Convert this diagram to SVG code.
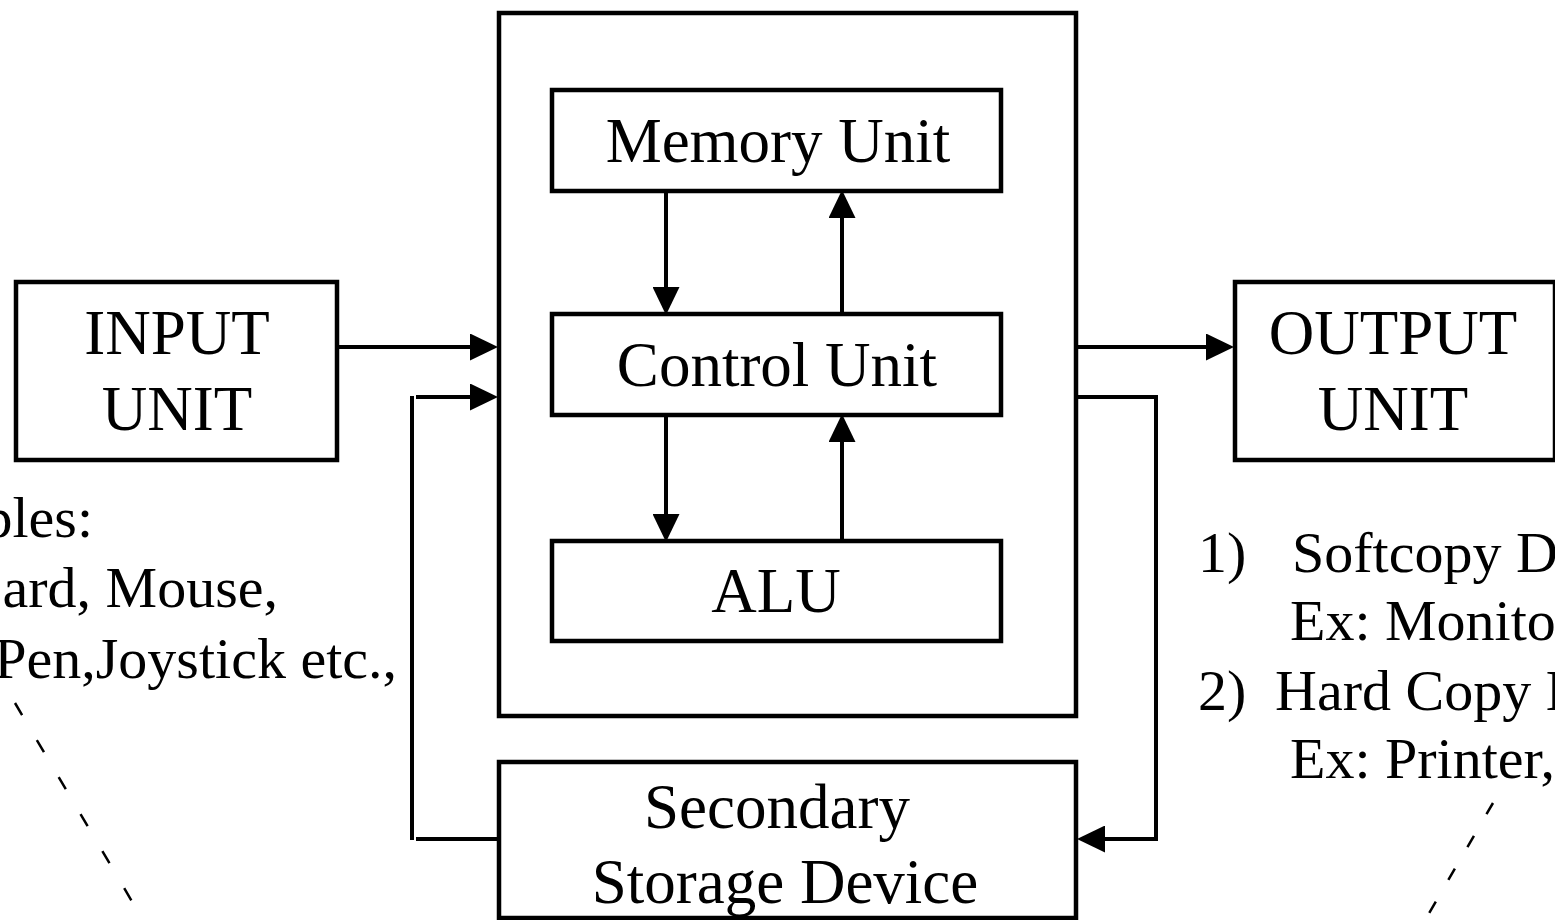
<svg xmlns="http://www.w3.org/2000/svg" width="1555" height="920" viewBox="0 0 1555 920">
<style>
.box{fill:#fff;stroke:#000;stroke-width:4.5}
.lbl{font-family:"Liberation Serif","Times New Roman",serif;font-size:63px;fill:#000;text-anchor:middle}
.note{font-family:"Liberation Serif","Times New Roman",serif;font-size:58px;fill:#000}
.conn{fill:none;stroke:#000;stroke-width:4}
.dash{fill:none;stroke:#000;stroke-width:2.5}
</style>
<defs>
<marker id="arr" viewBox="0 0 28 27" refX="17" refY="13.5" markerWidth="28" markerHeight="27" markerUnits="userSpaceOnUse" orient="auto">
<path d="M0,0 L28,13.5 L0,27 z" fill="#000"/>
</marker>
</defs>
<rect width="1555" height="920" fill="#fff"/>
<g id="cpu">
<rect class="box" x="499" y="13" width="577" height="703"/>
</g>
<g id="memory">
<rect class="box" x="552" y="90" width="449" height="101"/>
<text class="lbl" x="778" y="162">Memory Unit</text>
</g>
<g id="control">
<rect class="box" x="552" y="314" width="449" height="101"/>
<text class="lbl" x="777" y="386">Control Unit</text>
</g>
<g id="alu">
<rect class="box" x="552" y="541" width="449" height="100"/>
<text class="lbl" x="776" y="612">ALU</text>
</g>
<g id="input">
<rect class="box" x="16" y="282" width="321" height="178"/>
<text class="lbl" x="177" y="354">INPUT</text>
<text class="lbl" x="177" y="430">UNIT</text>
</g>
<g id="output">
<rect class="box" x="1235" y="282" width="320" height="178"/>
<text class="lbl" x="1393" y="354">OUTPUT</text>
<text class="lbl" x="1393" y="430">UNIT</text>
</g>
<g id="secondary">
<rect class="box" x="499" y="762" width="577" height="156"/>
<text class="lbl" x="777" y="828">Secondary</text>
<text class="lbl" x="785" y="903">Storage Device</text>
</g>
<g id="input-examples">
<text class="note" x="93" y="537" text-anchor="end">ples:</text>
<text class="note" x="278" y="607" text-anchor="end">ard, Mouse,</text>
<text class="note" x="397" y="678" text-anchor="end">Pen,Joystick etc.,</text>
</g>
<g id="output-examples">
<text class="note" x="1198" y="572">1)</text>
<text class="note" x="1292" y="572">Softcopy D</text>
<text class="note" x="1290" y="640">Ex: Monito</text>
<text class="note" x="1198" y="710">2)</text>
<text class="note" x="1275" y="710">Hard Copy D</text>
<text class="note" x="1290" y="778">Ex: Printer,</text>
</g>
<g id="connectors">
<path class="conn" d="M337,347 H487" marker-end="url(#arr)"/>
<path class="conn" d="M666,191 V304" marker-end="url(#arr)"/>
<path class="conn" d="M842,314 V201" marker-end="url(#arr)"/>
<path class="conn" d="M666,415 V531" marker-end="url(#arr)"/>
<path class="conn" d="M842,541 V425" marker-end="url(#arr)"/>
<path class="conn" d="M1076,347 H1223" marker-end="url(#arr)"/>
<path class="conn" d="M1076,397 H1156 V839 H1088" marker-end="url(#arr)"/>
<path class="conn" d="M497,839 H416"/>
<path class="conn" d="M412,840 V396"/>
<path class="conn" d="M416,397 H487" marker-end="url(#arr)"/>
<path class="dash" d="M15,703 L140,915" stroke-dasharray="14 29"/>
<path class="dash" d="M1493,803 L1424,922" stroke-dasharray="13 25"/>
</g>
</svg>
